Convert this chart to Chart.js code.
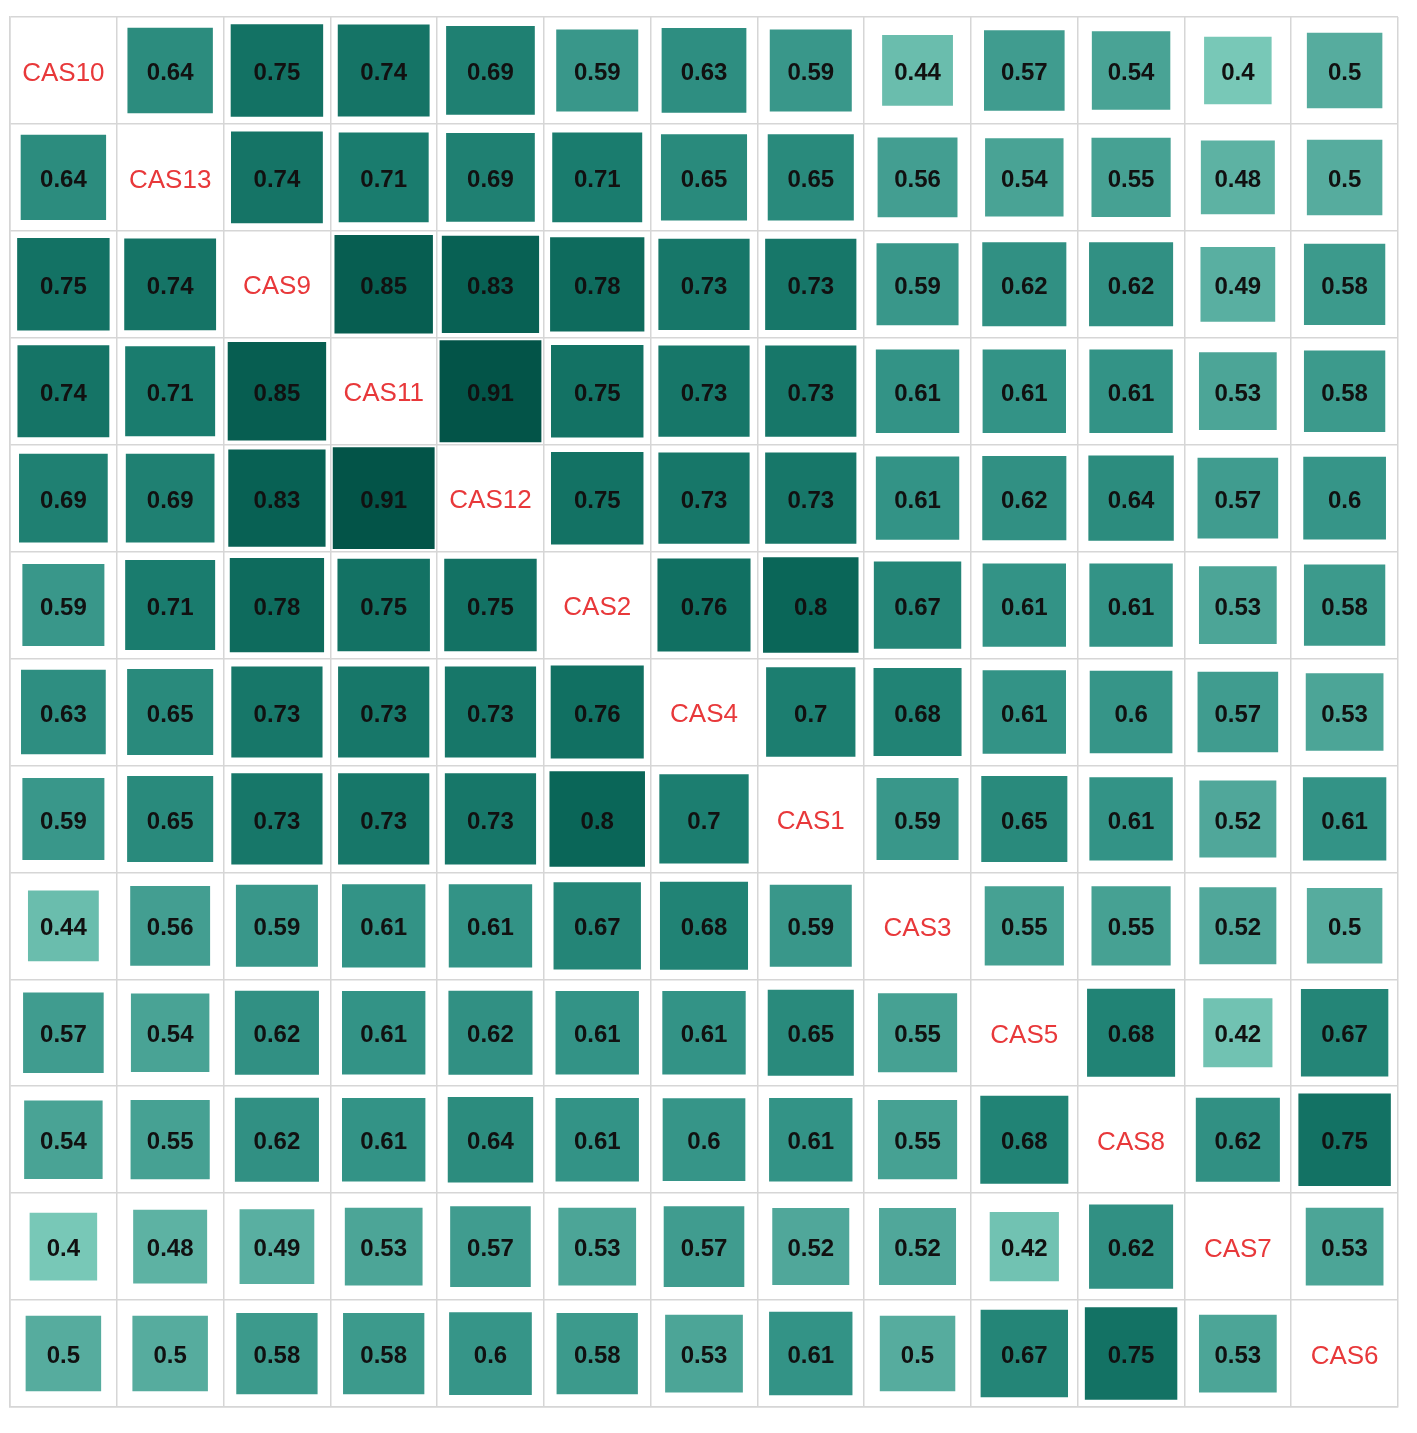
<!DOCTYPE html>
<html>
<head>
<meta charset="utf-8">
<title>CAS correlation matrix</title>
<script src="https://cdn.jsdelivr.net/npm/chart.js@4.4.1/dist/chart.umd.min.js"></script>
<style>
    html, body { margin: 0; padding: 0; background: #fff; }
    #wrap { width: 1417px; height: 1433px; }
</style>
</head>
<body>
<div id="wrap"><canvas id="corrChart" width="1417" height="1433"></canvas></div>
<script>
// Variable order (rows top to bottom, columns left to right)
const labels = ['CAS10', 'CAS13', 'CAS9', 'CAS11', 'CAS12', 'CAS2', 'CAS4', 'CAS1', 'CAS3', 'CAS5', 'CAS8', 'CAS7', 'CAS6'];

// One row per variable, null on the diagonal
const cas10 = [null, 0.64, 0.75, 0.74, 0.69, 0.59, 0.63, 0.59, 0.44, 0.57, 0.54, 0.4, 0.5];
const cas13 = [0.64, null, 0.74, 0.71, 0.69, 0.71, 0.65, 0.65, 0.56, 0.54, 0.55, 0.48, 0.5];
const cas9  = [0.75, 0.74, null, 0.85, 0.83, 0.78, 0.73, 0.73, 0.59, 0.62, 0.62, 0.49, 0.58];
const cas11 = [0.74, 0.71, 0.85, null, 0.91, 0.75, 0.73, 0.73, 0.61, 0.61, 0.61, 0.53, 0.58];
const cas12 = [0.69, 0.69, 0.83, 0.91, null, 0.75, 0.73, 0.73, 0.61, 0.62, 0.64, 0.57, 0.6];
const cas2  = [0.59, 0.71, 0.78, 0.75, 0.75, null, 0.76, 0.8, 0.67, 0.61, 0.61, 0.53, 0.58];
const cas4  = [0.63, 0.65, 0.73, 0.73, 0.73, 0.76, null, 0.7, 0.68, 0.61, 0.6, 0.57, 0.53];
const cas1  = [0.59, 0.65, 0.73, 0.73, 0.73, 0.8, 0.7, null, 0.59, 0.65, 0.61, 0.52, 0.61];
const cas3  = [0.44, 0.56, 0.59, 0.61, 0.61, 0.67, 0.68, 0.59, null, 0.55, 0.55, 0.52, 0.5];
const cas5  = [0.57, 0.54, 0.62, 0.61, 0.62, 0.61, 0.61, 0.65, 0.55, null, 0.68, 0.42, 0.67];
const cas8  = [0.54, 0.55, 0.62, 0.61, 0.64, 0.61, 0.6, 0.61, 0.55, 0.68, null, 0.62, 0.75];
const cas7  = [0.4, 0.48, 0.49, 0.53, 0.57, 0.53, 0.57, 0.52, 0.52, 0.42, 0.62, null, 0.53];
const cas6  = [0.5, 0.5, 0.58, 0.58, 0.6, 0.58, 0.53, 0.61, 0.5, 0.67, 0.75, 0.53, null];

const rows = [cas10, cas13, cas9, cas11, cas12, cas2, cas4, cas1, cas3, cas5, cas8, cas7, cas6];
const n = labels.length;

// teal colour ramp
const colorStops = [
    [0.40, [120, 200, 183]],
    [0.50, [86, 172, 158]],
    [0.60, [54, 149, 136]],
    [0.70, [28, 126, 112]],
    [0.80, [10, 102, 88]],
    [0.91, [3, 84, 72]]
];

function tealFor(v) {
    if (v <= colorStops[0][0]) return 'rgb(' + colorStops[0][1].join(',') + ')';
    for (let i = 1; i < colorStops.length; i++) {
        const [v1, c1] = colorStops[i];
        if (v <= v1) {
            const [v0, c0] = colorStops[i - 1];
            const t = (v - v0) / (v1 - v0);
            const c = c0.map((a, k) => Math.round(a + (c1[k] - a) * t));
            return 'rgb(' + c.join(',') + ')';
        }
    }
    return 'rgb(' + colorStops[colorStops.length - 1][1].join(',') + ')';
}

// build scatter points (cell centres)
const points = [];
rows.forEach((row, r) => {
    row.forEach((v, c) => {
        if (v !== null) points.push({ x: c + 0.5, y: r + 0.5, v: v });
    });
});

const cellTextPlugin = {
    id: 'cellText',
    afterDatasetsDraw(chart) {
        const ctx = chart.ctx;
        const xs = chart.scales.x;
        const ys = chart.scales.y;
        ctx.save();
        ctx.textAlign = 'center';
        ctx.textBaseline = 'middle';

        // values on top of the squares
        ctx.fillStyle = '#111';
        ctx.font = 'bold 24px "Liberation Sans", Arial, sans-serif';
        chart.getDatasetMeta(0).data.forEach((pt, i) => {
            const v = points[i].v;
            ctx.fillText(String(v), pt.x, pt.y + 3);
        });

        // variable names on the diagonal
        ctx.fillStyle = '#e8383a';
        ctx.font = '26px "Liberation Sans", Arial, sans-serif';
        labels.forEach((lab, i) => {
            ctx.fillText(lab, xs.getPixelForValue(i + 0.5), ys.getPixelForValue(i + 0.5) + 3);
        });
        ctx.restore();
    }
};

function squareRadius(context) {
    const raw = context.raw;
    const area = context.chart.chartArea;
    if (!raw || !area) return 0;
    const cell = area.width / n;
    const side = Math.sqrt(raw.v) * cell;
    return side / Math.SQRT2;
}

const gridColor = '#d6d6d6';

new Chart(document.getElementById('corrChart').getContext('2d'), {
    type: 'scatter',
    data: {
        datasets: [{
            data: points,
            pointStyle: 'rect',
            radius: squareRadius,
            hoverRadius: squareRadius,
            borderWidth: 0,
            hoverBorderWidth: 0,
            backgroundColor: ctx => ctx.raw ? tealFor(ctx.raw.v) : '#fff',
            borderColor: 'rgba(0,0,0,0)'
        }]
    },
    options: {
        responsive: false,
        animation: false,
        layout: {
            padding: { left: 10, top: 17, right: 19, bottom: 26 }
        },
        plugins: {
            legend: { display: false },
            tooltip: { enabled: false }
        },
        events: [],
        scales: {
            x: {
                type: 'linear',
                min: 0,
                max: n,
                ticks: { stepSize: 1, display: false },
                grid: { color: gridColor, lineWidth: 1.5, drawTicks: false },
                border: { color: gridColor, width: 1.5 }
            },
            y: {
                type: 'linear',
                reverse: true,
                min: 0,
                max: n,
                ticks: { stepSize: 1, display: false },
                grid: { color: gridColor, lineWidth: 1.5, drawTicks: false },
                border: { color: gridColor, width: 1.5 }
            }
        }
    },
    plugins: [cellTextPlugin]
});
</script>
</body>
</html>
